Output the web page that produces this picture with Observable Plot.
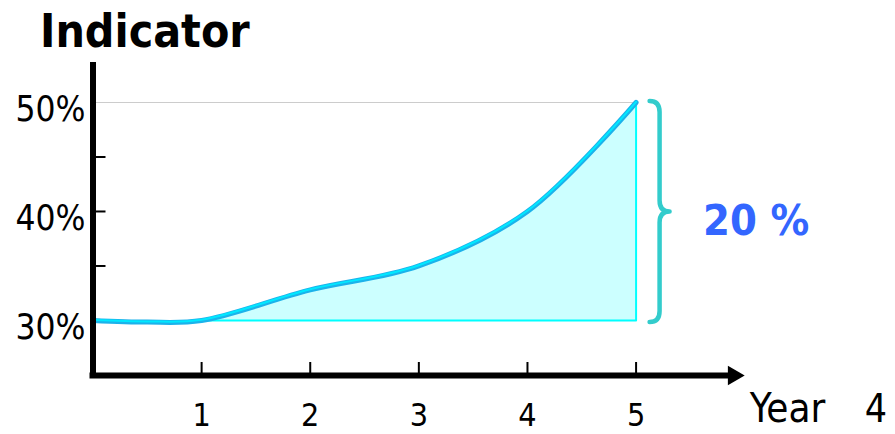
<!DOCTYPE html>
<html>
<head>
<meta charset="utf-8">
<script src="https://cdn.jsdelivr.net/npm/d3@7"></script>
<script src="https://cdn.jsdelivr.net/npm/@observablehq/plot@0.6"></script>
<style>
  html, body { margin: 0; padding: 0; background: #fff; }
  #title {
    height: 60px; box-sizing: border-box; padding-left: 40px; padding-top: 8px;
    font: bold 46px/46px "DejaVu Sans Condensed", "DejaVu Sans", sans-serif;
    font-stretch: condensed; color: #000; white-space: nowrap;
  }
  #chart svg { display: block; overflow: visible; }
</style>
</head>
<body>
<div id="title"></div>
<div id="chart"></div>
<script>
// ---- data ----
const title = "Indicator";
const years = [0, 0.5, 1, 2, 3, 4, 5];
const values = [30, 29.85, 30, 32.8, 35, 40, 50];
const xTicks = [1, 2, 3, 4, 5];
const yTickLabels = [30, 40, 50];
const yMinorTicks = [35, 40, 45];
const changeLabel = "20 %";
const xAxisLabel = "Year";
const pageNumber = "4";

document.getElementById("title").textContent = title;

const FONT = '"DejaVu Sans Condensed", "DejaVu Sans", sans-serif';
const data = years.map((x, i) => ({x, y: values[i]}));
const startYear = 1;
const base = values[years.indexOf(startYear)];
const lastYear = years[years.length - 1];
const lastValue = values[values.length - 1];
const midValue = (base + lastValue) / 2;
const edge = [{x: startYear, y: base}, {x: lastYear, y: base}, {x: lastYear, y: lastValue}];
const yDomain = [24.95, 53.67];
const xDomain = [0, 6];
const CURVE = "catmull-rom";

function brace(index, scales) {
  const sx = scales.x, sy = scales.y;
  const x0 = sx(lastYear) + 14;
  const top = sy(lastValue) - 1, bot = sy(base) + 2, mid = sy(midValue) + 0.5;
  const v = x0 + 10, tip = x0 + 20, r = 11;
  const d = `M${x0},${top} Q${v},${top} ${v},${top + r} L${v},${mid - r} Q${v},${mid} ${tip},${mid}` +
            ` Q${v},${mid} ${v},${mid + r} L${v},${bot - r} Q${v},${bot} ${x0},${bot}`;
  const p = document.createElementNS("http://www.w3.org/2000/svg", "path");
  p.setAttribute("d", d);
  p.setAttribute("fill", "none");
  p.setAttribute("stroke", "#33cccc");
  p.setAttribute("stroke-width", "4.5");
  p.setAttribute("stroke-linecap", "round");
  p.setAttribute("stroke-linejoin", "round");
  return p;
}

const chart = Plot.plot({
  width: 895,
  height: 374,
  marginLeft: 92.5,
  marginRight: 150.8,
  marginTop: 2,
  marginBottom: 59,
  x: {domain: xDomain},
  y: {domain: yDomain},
  style: {fontFamily: FONT, background: "#fff", color: "#000", overflow: "visible"},
  marks: [
    Plot.areaY(data, {x: "x", y1: base, y2: "y", curve: CURVE, fill: "#ccffff"}),
    Plot.ruleY([lastValue], {x1: 0, x2: lastYear, stroke: "#999999", strokeWidth: 1, strokeDasharray: "1,1"}),
    Plot.line(edge, {x: "x", y: "y", stroke: "#00ffff", strokeWidth: 2}),
    Plot.line(data, {x: "x", y: "y", curve: CURVE, stroke: "#1cb2ea", strokeWidth: 5, strokeLinejoin: "round"}),
    Plot.line(data, {x: "x", y: "y", curve: CURVE, stroke: "#00e8ff", strokeWidth: 2, dy: -0.7, strokeLinejoin: "round"}),
    // axes
    Plot.axisY({ticks: yTickLabels, tickSize: 0, tickPadding: 7.5, tickFormat: d => d + "%", fontSize: 35, dy: 7, label: null}),
    Plot.axisY({ticks: yMinorTicks, tickSize: -13, tickFormat: () => "", strokeWidth: 2, label: null}),
    Plot.axisX({ticks: xTicks, tickSize: -13, tickPadding: 41, tickFormat: d => String(d), fontSize: 32, strokeWidth: 2, label: null}),
    Plot.ruleX([0], {stroke: "#000", strokeWidth: 6, strokeLinecap: "square", insetTop: 3}),
    Plot.ruleY([yDomain[0]], {x1: 0, x2: xDomain[1], insetRight: 14, stroke: "#000", strokeWidth: 6, strokeLinecap: "square"}),
    Plot.dot([xDomain[1]], {x: d => d, y: () => yDomain[0], symbol: "triangle", rotate: 90, r: 7.2, dx: -11.2, fill: "#000", stroke: null}),
    // annotations
    brace,
    Plot.text([changeLabel], {x: () => lastYear, y: () => midValue, text: d => d, dx: 67, dy: 9.4, textAnchor: "start", fontSize: 43, fontWeight: "bold", fill: "#3366ff"}),
    Plot.text([xAxisLabel], {x: () => xDomain[1], y: () => yDomain[0], text: d => d, dx: 5, dy: 34, textAnchor: "start", fontSize: 40, fill: "#000"}),
    Plot.text([pageNumber], {x: () => xDomain[1], y: () => yDomain[0], text: d => d, dx: 120, dy: 34, textAnchor: "start", fontSize: 39, fill: "#000"})
  ]
});
document.getElementById("chart").appendChild(chart);
</script>
</body>
</html>
